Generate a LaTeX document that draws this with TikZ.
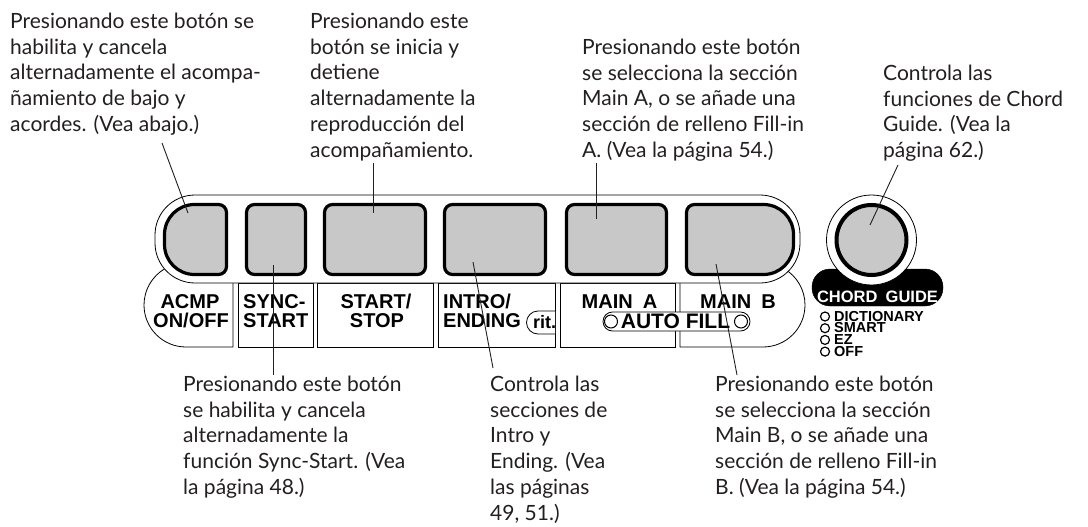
\documentclass[tikz,border=0pt]{standalone}
\usepackage{fontspec}
\setmainfont{Lato}
\newfontfamily\keyfont{Liberation Sans}
\usetikzlibrary{positioning}
\definecolor{keygray}{RGB}{200,200,200}
\definecolor{inkgray}{RGB}{35,31,32}

\tikzset{
  note/.style={anchor=north west, align=left, inner sep=0pt, text=inkgray,
    font=\fontsize{21}{25.8}\selectfont},
  keybtn/.style={draw=black, line width=3.2pt, fill=keygray},
  keybox/.style={keybtn, rounded corners=8pt, minimum height=70pt},
  cell/.style={draw=black, line width=0.8pt, fill=white},
  keylabel/.style={font=\keyfont\bfseries\fontsize{20}{21}\selectfont, inner sep=0pt, anchor=base},
  optlabel/.style={font=\keyfont\bfseries\fontsize{14.5}{12}\selectfont, inner sep=0pt, anchor=base west},
  lead/.style={line width=0.9pt, draw=inkgray},
}

\begin{document}
\begin{tikzpicture}[x=1pt,y=-1pt]
\useasboundingbox (0,0) rectangle (1088,527);

% label cells under the buttons
\draw[cell] (233,283) -- (233,347) -- (186,347) arc[start angle=90,end angle=240,radius=42];
\draw[cell] (238,283) rectangle (313,347);
\draw[cell] (317,283) rectangle (433,347);
\draw[cell] (438,283) rectangle (555,347);
\draw[cell] (560,283) rectangle (675,347);
\draw[cell] (680,283) -- (680,347) -- (763,347) arc[start angle=90,end angle=-60,radius=42];

% rit. box and auto fill pill
\draw[cell] (555,311) -- (538,311) arc[start angle=270,end angle=90,radius=11.5] -- (555,334);
\draw[cell, rounded corners=9.5pt] (603,312) rectangle (750,331);

% button band
\draw[cell, rounded corners=40pt] (155,195) rectangle (800,283);

% buttons
\draw[keybtn] (218.5,204.5) -- (194.5,204.5) arc[start angle=270,end angle=180,radius=30]
  -- (164.5,244.5) arc[start angle=180,end angle=90,radius=30]
  -- (218.5,274.5) arc[start angle=90,end angle=0,radius=8]
  -- (226.5,212.5) arc[start angle=0,end angle=-90,radius=8] -- cycle;
\node[keybox, minimum width=59pt] (syncbtn) at (276,239.5) {};
\node[keybox, minimum width=101pt] (startbtn) at (375,239.5) {};
\node[keybox, minimum width=101pt] (introbtn) at (495,239.5) {};
\node[keybox, minimum width=100pt] (mainabtn) at (616.5,239.5) {};
\draw[keybtn] (694.5,204.5) -- (763.5,204.5) arc[start angle=-90,end angle=0,radius=30]
  -- (793.5,244.5) arc[start angle=0,end angle=90,radius=30]
  -- (694.5,274.5) arc[start angle=90,end angle=180,radius=8]
  -- (686.5,212.5) arc[start angle=180,end angle=270,radius=8] -- cycle;

% key labels
\node[keylabel] (acmp1) at (190,308) {ACMP};
\node[keylabel] (acmp2) at (191,327) {ON/OFF};
\node[keylabel, anchor=base west] (sync1) at (243,308) {SYNC-};
\node[keylabel, anchor=base west] (sync2) at (243,327) {START};
\node[keylabel] (start1) at (376,308) {START/};
\node[keylabel] (start2) at (377,327) {STOP};
\node[keylabel, anchor=base west] (intro1) at (443,308) {INTRO/};
\node[keylabel, anchor=base west] (intro2) at (443,327) {ENDING};
\node[keylabel, anchor=base west, font=\keyfont\bfseries\fontsize{18}{19}\selectfont] (rit) at (533,328) {rit.};
\node[keylabel] (maina) at (619.5,308) {MAIN\hspace{0.5em}A};
\node[keylabel] (mainb) at (738,308) {MAIN\hspace{0.5em}B};
\node[keylabel, font=\keyfont\bfseries\fontsize{21}{22}\selectfont] (autofill) at (675.5,328) {AUTO FILL};
\draw[line width=1pt] (611,321.5) circle[radius=6.5];
\draw[line width=1pt] (741,321.5) circle[radius=6.5];

% chord guide
\draw[fill=black, rounded corners=18pt] (812,269) rectangle (943,306);
\draw[line width=0.8pt, fill=white] (871.5,240) circle[radius=45];
\node[circle, draw=black, line width=4pt, fill=keygray, minimum size=70pt] (chordbtn) at (871.5,240) {};
\node[keylabel, text=white, font=\keyfont\bfseries\fontsize{16.5}{17}\selectfont] (chordlabel) at (877.5,302) {CHORD\hspace{0.5em}GUIDE};
\node[optlabel] (opt1) at (834,321) {DICTIONARY};
\node[optlabel] (opt2) at (834,332.7) {SMART};
\node[optlabel] (opt3) at (834,344.4) {EZ};
\node[optlabel] (opt4) at (834,356.1) {OFF};
\foreach \i in {0,...,3} {
  \draw[line width=1.2pt] (825,316.5+11.7*\i) circle[radius=4.5];
}

% notes above
\node[note] (noteacmp) at (10,10) {\strut Presionando este botón se\\habilita y cancela\\alternadamente el acompa-\\ñamiento de bajo y\\acordes. (Vea abajo.)};
\node[note] (notestart) at (310,10) {\strut Presionando este\\botón se inicia y\\detiene\\alternadamente la\\reproducción del\\acompañamiento.};
\node[note] (notemaina) at (582,36) {\strut Presionando este botón\\se selecciona la sección\\Main A, o se añade una\\sección de relleno Fill-in\\A. (Vea la página 54.)};
\node[note] (notechord) at (883,62) {\strut Controla las\\funciones de Chord\\Guide. (Vea la\\página 62.)};

% notes below
\node[note] (notesync) at (183,373) {\strut Presionando este botón\\se habilita y cancela\\alternadamente la\\función Sync-Start. (Vea\\la página 48.)};
\node[note] (noteintro) at (490,373) {\strut Controla las\\secciones de\\Intro y\\Ending. (Vea\\las páginas\\49, 51.)};
\node[note] (notemainb) at (715,373) {\strut Presionando este botón\\se selecciona la sección\\Main B, o se añade una\\sección de relleno Fill-in\\B. (Vea la página 54.)};

% leader lines
\coordinate (acmpfoot) at (162,143);   \coordinate (acmptip) at (188,213);
\coordinate (startfoot) at (373,163);  \coordinate (starttip) at (373,213);
\coordinate (mainafoot) at (596,163);  \coordinate (mainatip) at (596,219);
\coordinate (chordfoot) at (898,165);  \coordinate (chordtip) at (870,225);
\coordinate (synctip) at (273,265);    \coordinate (syncfoot) at (273,375);
\coordinate (introtip) at (473,262);   \coordinate (introfoot) at (493,368);
\coordinate (mainbtip) at (716,264);   \coordinate (mainbfoot) at (737,375);
\draw[lead] (acmpfoot) -- (acmptip);
\draw[lead] (startfoot) -- (starttip);
\draw[lead] (mainafoot) -- (mainatip);
\draw[lead] (chordfoot) -- (chordtip);
\draw[lead] (synctip) -- (syncfoot);
\draw[lead] (introtip) -- (introfoot);
\draw[lead] (mainbtip) -- (mainbfoot);
\end{tikzpicture}
\end{document}
